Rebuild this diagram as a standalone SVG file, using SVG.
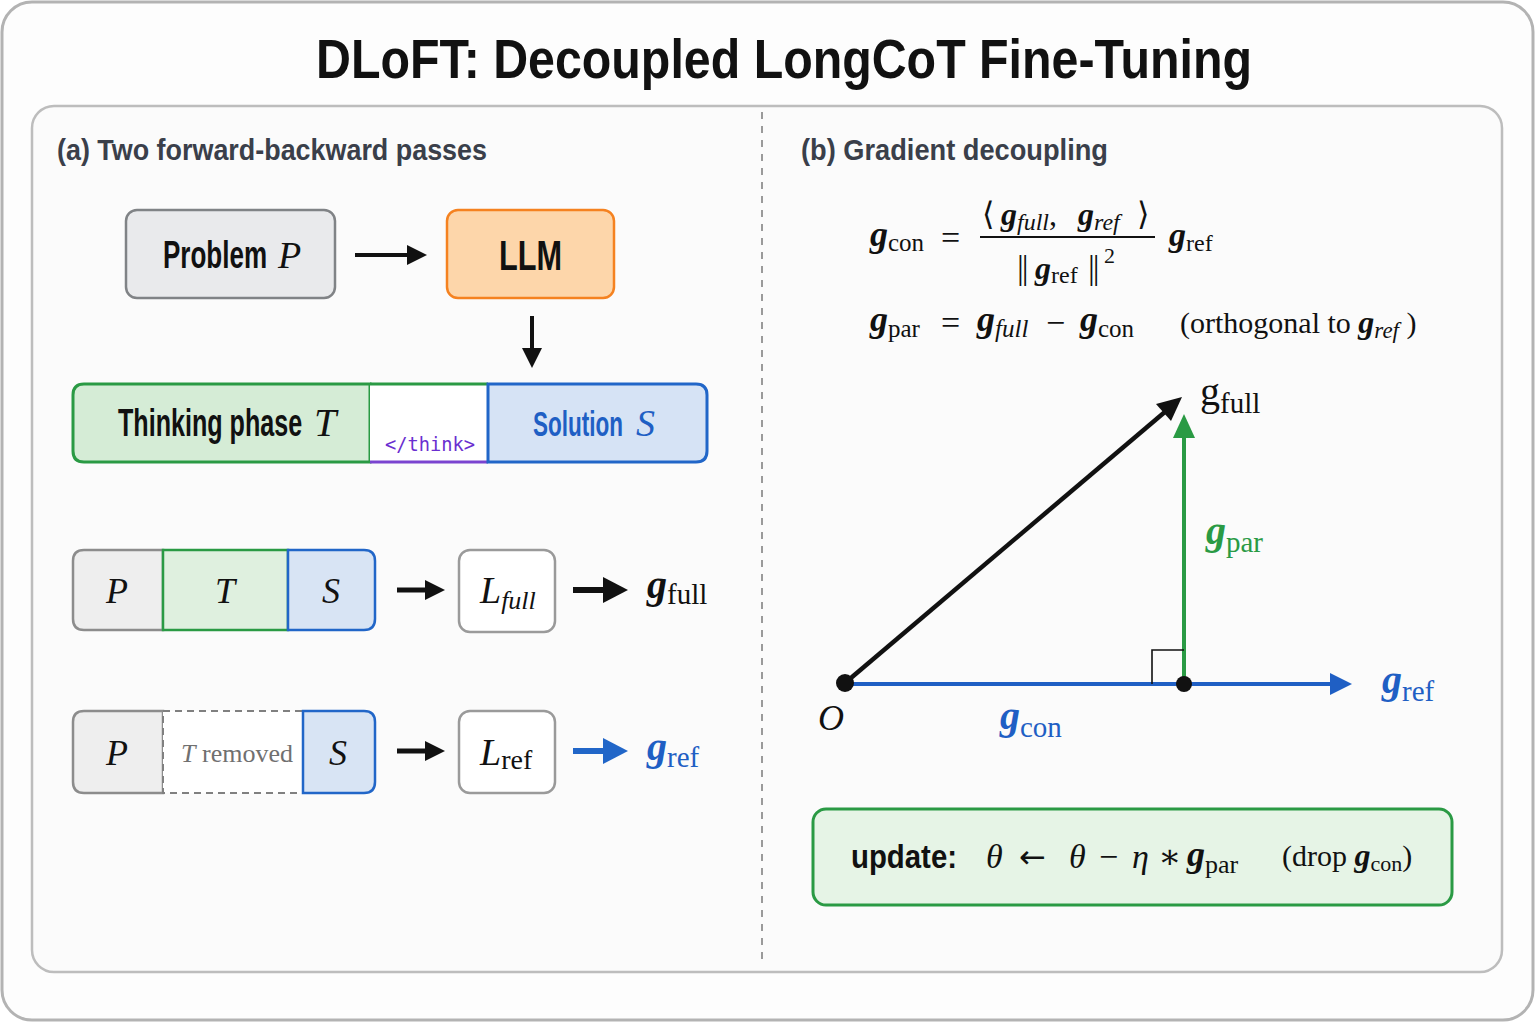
<svg xmlns="http://www.w3.org/2000/svg" width="1536" height="1024" viewBox="0 0 1536 1024">
<style>
.sans{font-family:"Liberation Sans",Arial,sans-serif;font-weight:700}
.title{font-size:56px;fill:#111}
.sec{font-size:30px;fill:#3a3f4a}
.ser{font-family:"Liberation Serif","DejaVu Serif",serif}
.it{font-style:italic}
.gb{font-family:"Liberation Serif","DejaVu Serif",serif;font-style:italic;font-weight:700}
.ink{fill:#111}
.blue{fill:#1f5fc4}
.green{fill:#2a9a44}
.box{stroke-width:2.5}
</style>
<rect x="2" y="2" width="1531" height="1018" rx="30" fill="#fdfdfd" stroke="#b3b3b3" stroke-width="3"/>
<text class="sans title" x="316" y="78" textLength="936" lengthAdjust="spacingAndGlyphs">DLoFT: Decoupled LongCoT Fine-Tuning</text>
<rect x="32" y="106" width="1470" height="866" rx="22" fill="#fbfbfb" stroke="#bdbdbd" stroke-width="2.5"/>
<line x1="762" y1="112" x2="762" y2="966" stroke="#9a9a9a" stroke-width="2" stroke-dasharray="7 7"/>
<text class="sans sec" x="57" y="160" textLength="430" lengthAdjust="spacingAndGlyphs">(a) Two forward-backward passes</text>
<text class="sans sec" x="801" y="160" textLength="307" lengthAdjust="spacingAndGlyphs">(b) Gradient decoupling</text>

<g id="connectors">
  <line x1="355" y1="255" x2="410" y2="255" stroke="#111" stroke-width="4"/>
  <polygon points="407,245 427,255 407,265" fill="#111"/>
  <line x1="532" y1="316" x2="532" y2="350" stroke="#111" stroke-width="4"/>
  <polygon points="522,348 532,368 542,348" fill="#111"/>
  <line x1="397" y1="590" x2="428" y2="590" stroke="#111" stroke-width="5"/>
  <polygon points="425,580 445,590 425,600" fill="#111"/>
  <line x1="573" y1="590" x2="606" y2="590" stroke="#111" stroke-width="6"/>
  <polygon points="603,577 628,590 603,603" fill="#111"/>
  <line x1="397" y1="751" x2="428" y2="751" stroke="#111" stroke-width="5"/>
  <polygon points="425,741 445,751 425,761" fill="#111"/>
  <line x1="573" y1="751" x2="606" y2="751" stroke="#2166c8" stroke-width="6"/>
  <polygon points="603,738 628,751 603,764" fill="#2166c8"/>
</g>

<g id="problem">
  <rect x="126" y="210" width="209" height="88" rx="11" fill="#e9eaec" stroke="#808386" class="box"/>
  <text class="sans ink" transform="translate(163 268) scale(0.68 1)" x="0" y="0" font-size="38" textLength="153" lengthAdjust="spacingAndGlyphs">Problem</text>
  <text class="ser it ink" x="278" y="268" font-size="38">P</text>
</g>
<g id="llm">
  <rect x="447" y="210" width="167" height="88" rx="11" fill="#fdd6aa" stroke="#f58220" class="box"/>
  <text class="sans ink" x="499" y="270" font-size="42" textLength="63" lengthAdjust="spacingAndGlyphs">LLM</text>
</g>

<g id="output-sequence">
  <path d="M370,384 H84 Q73,384 73,395 V451 Q73,462 84,462 H370 Z" fill="#d5ecd6" stroke="#2a9a44" stroke-width="3"/>
  <rect x="370" y="384" width="118" height="78" fill="#ffffff"/>
  <line x1="370" y1="384" x2="488" y2="384" stroke="#2a9a44" stroke-width="3"/>
  <line x1="370" y1="462" x2="488" y2="462" stroke="#7a44d0" stroke-width="3"/>
  <path d="M488,384 H696 Q707,384 707,395 V451 Q707,462 696,462 H488 Z" fill="#d6e3f5" stroke="#2166c8" stroke-width="3"/>
  <text class="sans ink" transform="translate(118 436) scale(0.66 1)" x="0" y="0" font-size="38" textLength="279" lengthAdjust="spacingAndGlyphs">Thinking phase</text>
  <text class="ser it ink" x="314" y="436" font-size="40">T</text>
  <text x="385" y="451" font-family="'DejaVu Sans Mono','Liberation Mono',monospace" font-size="19" fill="#6a2fd0" textLength="90" lengthAdjust="spacingAndGlyphs">&lt;/think&gt;</text>
  <text class="sans" transform="translate(533 436) scale(0.63 1)" x="0" y="0" font-size="36" fill="#1f5fc4" textLength="143" lengthAdjust="spacingAndGlyphs">Solution</text>
  <text class="ser it" x="636" y="436" font-size="38" fill="#1f5fc4">S</text>
</g>

<g id="full-input">
  <path d="M163,550 H84 Q73,550 73,561 V619 Q73,630 84,630 H163 Z" fill="#eeeeee" stroke="#8c8c8c" stroke-width="2.5"/>
  <rect x="163" y="550" width="125" height="80" fill="#dff0df" stroke="#2a9a44" stroke-width="2.5"/>
  <path d="M288,550 H364 Q375,550 375,561 V619 Q375,630 364,630 H288 Z" fill="#d8e4f4" stroke="#2166c8" stroke-width="2.5"/>
  <text class="ser it ink" x="117" y="603" font-size="36" text-anchor="middle">P</text>
  <text class="ser it ink" x="225" y="603" font-size="36" text-anchor="middle">T</text>
  <text class="ser it ink" x="331" y="603" font-size="36" text-anchor="middle">S</text>
</g>
<g id="loss-full">
  <rect x="459" y="550" width="96" height="82" rx="11" fill="#ffffff" stroke="#9a9a9a" stroke-width="2.5"/>
  <text class="ser it ink" x="480" y="603" font-size="38">L<tspan font-size="26" dy="6">full</tspan></text>
</g>
<g id="grad-full">
  <text x="647" y="598"><tspan class="gb ink" font-size="40">g</tspan><tspan class="ser ink" font-size="29" dy="6">full</tspan></text>
</g>

<g id="ref-input">
  <path d="M163,711 H84 Q73,711 73,722 V782 Q73,793 84,793 H163 Z" fill="#eeeeee" stroke="#8c8c8c" stroke-width="2.5"/>
  <rect x="163" y="711" width="140" height="82" fill="#ffffff" stroke="#808080" stroke-width="2" stroke-dasharray="7 5"/>
  <path d="M303,711 H364 Q375,711 375,722 V782 Q375,793 364,793 H303 Z" fill="#d8e4f4" stroke="#2166c8" stroke-width="2.5"/>
  <text class="ser it ink" x="117" y="765" font-size="36" text-anchor="middle">P</text>
  <text class="ser" x="181" y="762" font-size="26" fill="#707070"><tspan class="it">T</tspan> removed</text>
  <text class="ser it ink" x="338" y="765" font-size="36" text-anchor="middle">S</text>
</g>
<g id="loss-ref">
  <rect x="459" y="711" width="96" height="82" rx="11" fill="#ffffff" stroke="#9a9a9a" stroke-width="2.5"/>
  <text class="ser ink" x="480" y="765" font-size="38"><tspan class="it">L</tspan><tspan font-size="28" dy="4">ref</tspan></text>
</g>
<g id="grad-ref">
  <text x="647" y="760"><tspan class="gb blue" font-size="40">g</tspan><tspan class="ser blue" font-size="29" dy="7">ref</tspan></text>
</g>

<g id="formulas" class="ink">
  <text x="870" y="246"><tspan class="gb" font-size="36">g</tspan><tspan class="ser" font-size="25" dy="5">con</tspan></text>
  <text class="ser" x="941" y="249" font-size="34">=</text>
  <text x="982" y="225" font-size="32"><tspan class="ser">⟨</tspan><tspan class="gb" x="1001">g</tspan><tspan class="ser it" font-size="24" dy="5">full</tspan><tspan class="ser" dy="-5">,</tspan><tspan class="gb" x="1078">g</tspan><tspan class="ser it" font-size="24" dy="5">ref</tspan><tspan class="ser" x="1137" dy="-5">⟩</tspan></text>
  <line x1="980" y1="237" x2="1155" y2="237" stroke="#111" stroke-width="2"/>
  <text x="1017" y="279" font-size="34"><tspan class="ser" letter-spacing="-2">||</tspan><tspan class="gb" x="1035" font-size="32">g</tspan><tspan class="ser" font-size="24" dy="4">ref</tspan><tspan class="ser" x="1088" dy="-4" letter-spacing="-2">||</tspan><tspan class="ser" font-size="22" x="1104" dy="-16">2</tspan></text>
  <text x="1169" y="246"><tspan class="gb" font-size="34">g</tspan><tspan class="ser" font-size="24" dy="5">ref</tspan></text>

  <text x="870" y="331"><tspan class="gb" font-size="36">g</tspan><tspan class="ser" font-size="25" dy="6">par</tspan></text>
  <text class="ser" x="941" y="334" font-size="34">=</text>
  <text x="977" y="331"><tspan class="gb" font-size="36">g</tspan><tspan class="ser it" font-size="25" dy="6">full</tspan></text>
  <text class="ser" x="1046" y="334" font-size="34">−</text>
  <text x="1080" y="331"><tspan class="gb" font-size="36">g</tspan><tspan class="ser" font-size="25" dy="6">con</tspan></text>
  <text x="1180" y="333" font-size="30"><tspan class="ser">(orthogonal to </tspan><tspan class="gb" font-size="32">g</tspan><tspan class="ser it" font-size="23" dy="5">ref</tspan><tspan class="ser" dy="-5"> )</tspan></text>
</g>

<g id="vector-diagram">
  <line x1="845" y1="684" x2="1332" y2="684" stroke="#1f5fc4" stroke-width="4"/>
  <polygon points="1330,673 1352,684 1330,695" fill="#1f5fc4"/>
  <line x1="1184" y1="684" x2="1184" y2="436" stroke="#2a9a44" stroke-width="4"/>
  <polygon points="1173,438 1184,414 1195,438" fill="#2a9a44"/>
  <line x1="845" y1="683" x2="1166" y2="411" stroke="#111" stroke-width="4.5"/>
  <polygon points="1182,397 1171,421 1156,404" fill="#111"/>
  <path d="M1152,684 V650 H1184" fill="none" stroke="#111" stroke-width="1.6"/>
  <circle cx="845" cy="683" r="9" fill="#111"/>
  <circle cx="1184" cy="684" r="8" fill="#111"/>
  <text class="ser it ink" x="818" y="730" font-size="36">O</text>
  <text x="1200" y="405"><tspan class="ser ink" font-size="40">g</tspan><tspan class="ser ink" font-size="29" dy="8">full</tspan></text>
  <text x="1206" y="544"><tspan class="gb green" font-size="40">g</tspan><tspan class="ser green" font-size="29" dy="8">par</tspan></text>
  <text x="1000" y="729"><tspan class="gb blue" font-size="40">g</tspan><tspan class="ser blue" font-size="29" dy="8">con</tspan></text>
  <text x="1382" y="693"><tspan class="gb blue" font-size="40">g</tspan><tspan class="ser blue" font-size="29" dy="8">ref</tspan></text>
</g>

<g id="update">
  <rect x="813" y="809" width="639" height="96" rx="13" fill="#e6f4e6" stroke="#2a9a44" stroke-width="3"/>
  <text class="sans ink" x="851" y="868" font-size="34" textLength="106" lengthAdjust="spacingAndGlyphs">update:</text>
  <text class="ser ink" y="868" font-size="34"><tspan class="it" x="986">θ</tspan><tspan x="1019" font-family="'DejaVu Sans',sans-serif" font-size="32">←</tspan><tspan class="it" x="1069">θ</tspan><tspan x="1099">−</tspan><tspan class="it" x="1132">η</tspan><tspan x="1158">∗</tspan></text>
  <text x="1187" y="866"><tspan class="gb ink" font-size="36">g</tspan><tspan class="ser ink" font-size="26" dy="7">par</tspan></text>
  <text class="ser ink" x="1282" y="866" font-size="30">(drop <tspan class="gb" font-size="32">g</tspan><tspan font-size="22" dy="5">con</tspan><tspan dy="-5">)</tspan></text>
</g>
</svg>
